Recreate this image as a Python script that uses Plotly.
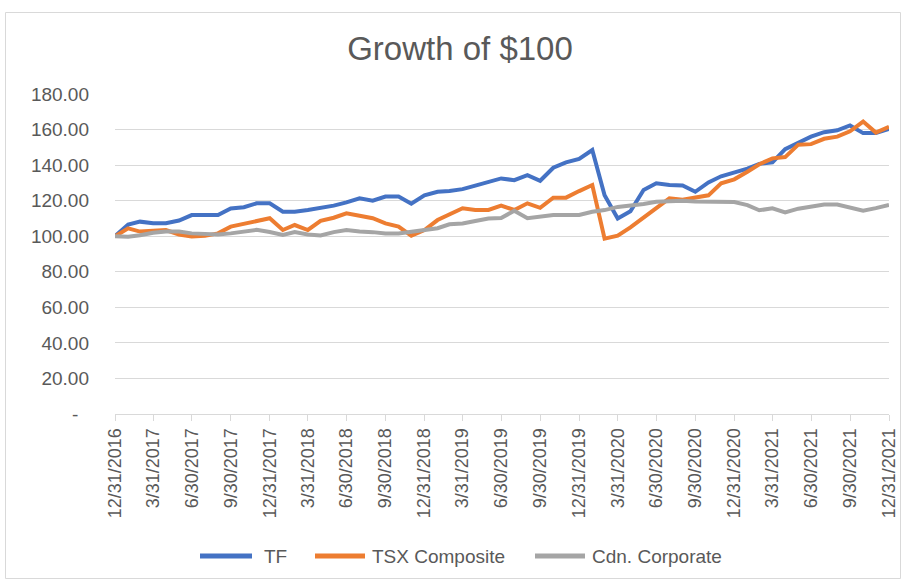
import plotly.graph_objects as go
import pandas as pd

dates = pd.date_range("2016-12-31", "2021-12-31", freq="ME")

tf = [100, 106.5, 108.2, 107.3, 107.3, 108.8, 111.9, 111.9, 111.9, 115.6,
      116.3, 118.5, 118.5, 113.8, 113.8, 114.7, 115.7, 117.2, 119.0, 121.3,
      120.0, 122.3, 122.4, 118.3, 123.0, 125.0, 125.5, 126.5, 128.5, 130.5,
      132.5, 131.5, 134.3, 131.2, 138.5, 141.5, 143.5, 148.5, 123.0, 110.0,
      114.0, 126.0, 129.8, 128.8, 128.5, 125.0, 130.3, 133.7, 136.0, 138.0,
      140.7, 141.5, 149.0, 152.8, 156.0, 158.5, 159.6, 162.3, 158.0, 158.0,
      160.3]

tsx = [100, 104.4, 102.6, 102.8, 103.5, 101.0, 99.8, 100.2, 101.6, 105.4,
       107.0, 108.6, 110.1, 103.5, 106.3, 103.5, 108.6, 110.4, 112.9, 111.5,
       110.1, 107.2, 105.4, 100.3, 103.5, 109.1, 112.3, 115.7, 114.8, 114.8,
       117.2, 114.75, 118.5, 116.0, 121.7, 121.7, 125.4, 128.8, 98.6, 100.3,
       105.0, 110.5, 116.0, 121.3, 120.5, 121.5, 123.0, 129.8, 132.0, 136.3,
       140.5, 143.8, 144.5, 151.5, 151.8, 154.8, 156.0, 159.0, 164.5, 158.3,
       161.6]

cdn_corp = [100, 99.7, 100.5, 102.0, 102.6, 102.6, 101.6, 101.3, 101.0, 101.6,
            102.6, 103.6, 102.4, 100.7, 102.3, 101.0, 100.4, 102.3, 103.5, 102.6,
            102.3, 101.6, 101.6, 102.6, 103.6, 104.5, 106.7, 107.2, 108.6, 110.0,
            110.3, 114.3, 110.1, 110.8, 111.9, 111.9, 112.0, 113.8, 114.7, 116.5,
            117.2, 118.1, 119.4, 119.8, 119.9, 119.5, 119.4, 119.4, 119.2, 117.5,
            114.6, 115.7, 113.4, 115.5, 116.8, 117.8, 117.8, 116.4, 114.4, 115.8,
            117.6]

series_names = ["TF", "TSX Composite", "Cdn. Corporate"]
series_colors = ["#4472C4", "#ED7D31", "#A5A5A5"]

x_tick_vals = pd.date_range("2016-12-31", "2021-12-31", freq="QE")
x_tick_text = [f"{d.month}/{d.day}/{d.year}" for d in x_tick_vals]

y_tick_vals = [0, 20, 40, 60, 80, 100, 120, 140, 160, 180]
y_tick_text = ["-\u00a0\u00a0"] + [f"{v:.2f}" for v in y_tick_vals[1:]]

W, H = 902, 580
L, R, T, B = 115, 13, 94, 166
pw, ph = W - L - R, H - T - B

def px(xp):
    return (xp - L) / pw

def py(yp):
    return (H - B - yp) / ph

font_family = "Liberation Sans, Arial, sans-serif"
txt = "#595959"

fig = go.Figure()
for vals, name, col in zip([tf, tsx, cdn_corp], series_names, series_colors):
    fig.add_trace(go.Scatter(x=dates, y=vals, mode="lines", name=name,
                             line=dict(color=col, width=4), showlegend=False))

legend_lines = [(200, 252), (315, 365), (535, 585)]
legend_text_x = [262, 370, 590]
legend_y = 556
shapes = [dict(type="rect", xref="paper", yref="paper",
               x0=px(5.5), x1=px(900.5), y0=py(578.5), y1=py(12.5),
               line=dict(color="#D9D9D9", width=1), layer="below")]
annotations = []
for (a, b), tx, name, col in zip(legend_lines, legend_text_x, series_names, series_colors):
    shapes.append(dict(type="line", xref="paper", yref="paper",
                       x0=px(a), x1=px(b), y0=py(legend_y), y1=py(legend_y),
                       line=dict(color=col, width=5)))
    annotations.append(dict(text=name, xref="paper", yref="paper", x=px(tx), y=py(legend_y),
                            xanchor="left", yanchor="middle", showarrow=False,
                            font=dict(family=font_family, size=19, color=txt)))

fig.update_layout(
    width=W, height=H,
    margin=dict(l=L, r=R, t=T, b=B, autoexpand=False),
    paper_bgcolor="white", plot_bgcolor="white",
    title=dict(text="Growth of $100", x=460 / W, xref="container", xanchor="center",
               y=1 - 48 / H, yref="container", yanchor="middle",
               font=dict(family=font_family, size=33, color=txt)),
    showlegend=False,
    xaxis=dict(type="date", range=[dates[0], dates[-1]], tickmode="array",
               tickvals=x_tick_vals, ticktext=x_tick_text, tickangle=-90,
               showgrid=False, showline=True, linecolor="#D9D9D9", linewidth=1,
               ticks="outside", ticklen=6, tickcolor="#D9D9D9", automargin=False,
               tickfont=dict(family=font_family, size=18, color=txt), zeroline=False),
    yaxis=dict(range=[0, 180], tickmode="array", tickvals=y_tick_vals, ticktext=y_tick_text,
               showgrid=True, gridcolor="#D9D9D9", gridwidth=1, zeroline=False,
               showline=False, ticks="", ticklabelstandoff=25, automargin=False,
               tickfont=dict(family=font_family, size=19, color=txt)),
    shapes=shapes,
    annotations=annotations,
)

fig.write_html("out.html", config={"displayModeBar": False},
               post_script="document.body.style.margin='0';document.body.style.overflow='hidden';")
